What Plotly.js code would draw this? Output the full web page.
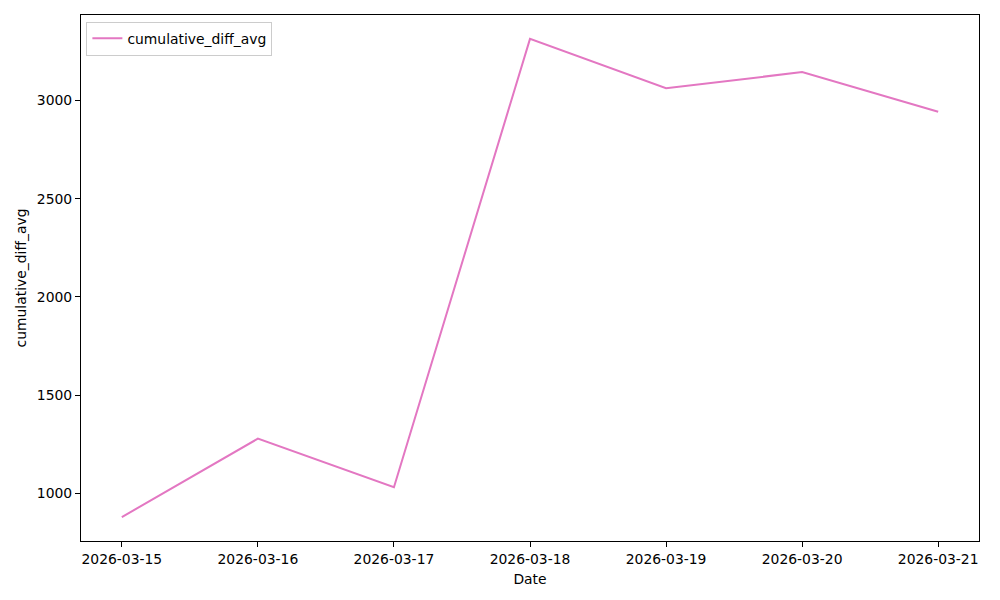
<!DOCTYPE html>
<html>
<head>
<meta charset="utf-8">
<script src="https://cdn.plot.ly/plotly-3.0.1.min.js"></script>
<style>html,body{margin:0;padding:0;background:#fff;}#chart{width:1000px;height:600px;}</style>
</head>
<body>
<div id="chart"></div>
<script>
const dates = ["2026-03-15","2026-03-16","2026-03-17","2026-03-18","2026-03-19","2026-03-20","2026-03-21"];
const cumulativeDiffAvg = [880, 1279, 1032, 3313, 3062, 3144, 2942];
const seriesName = "cumulative_diff_avg";
const xTitle = "Date";
const yTitle = "cumulative_diff_avg";
const yTicks = [1000, 1500, 2000, 2500, 3000];

const font = {family: "DejaVu Sans, sans-serif", size: 13.9, color: "#000"};

const trace = {
  x: dates, y: cumulativeDiffAvg, type: "scatter", mode: "lines",
  name: seriesName, line: {color: "#e377c2", width: 2}
};

const ymin = Math.min(...cumulativeDiffAvg), ymax = Math.max(...cumulativeDiffAvg);
const pad = (ymax - ymin) * 0.05;
const x0 = new Date(dates[0] + "T00:00:00Z").getTime();
const x1 = new Date(dates[dates.length-1] + "T00:00:00Z").getTime();
const xpad = (x1 - x0) * 0.05;
const fmt = t => new Date(t).toISOString().replace("T"," ").slice(0,19);

const layout = {
  width: 1000, height: 600,
  margin: {l: 81, r: 21, t: 15, b: 59},
  paper_bgcolor: "#fff", plot_bgcolor: "#fff",
  font: font,
  showlegend: true,
  legend: {x: 0.006, y: 0.987, xanchor: "left", yanchor: "top",
    bgcolor: "rgba(255,255,255,0.8)", bordercolor: "#cccccc", borderwidth: 1,
    font: font},
  xaxis: {
    type: "date", range: [fmt(x0 - xpad), fmt(x1 + xpad)],
    tickvals: dates, ticktext: dates,
    showgrid: false, zeroline: false,
    showline: true, linecolor: "#000", linewidth: 1, mirror: true,
    ticks: "outside", ticklen: 5, tickwidth: 1, tickcolor: "#000",
    tickfont: font,
    title: {text: xTitle, font: font, standoff: 8}
  },
  yaxis: {
    range: [ymin - pad, ymax + pad],
    tickvals: yTicks, ticktext: yTicks.map(String),
    showgrid: false, zeroline: false,
    showline: true, linecolor: "#000", linewidth: 1, mirror: true,
    ticks: "outside", ticklen: 5, tickwidth: 1, tickcolor: "#000",
    tickfont: font,
    title: {text: yTitle, font: font, standoff: 6}
  }
};

Plotly.newPlot("chart", [trace], layout, {displayModeBar: false, staticPlot: true});
</script>
</body>
</html>
